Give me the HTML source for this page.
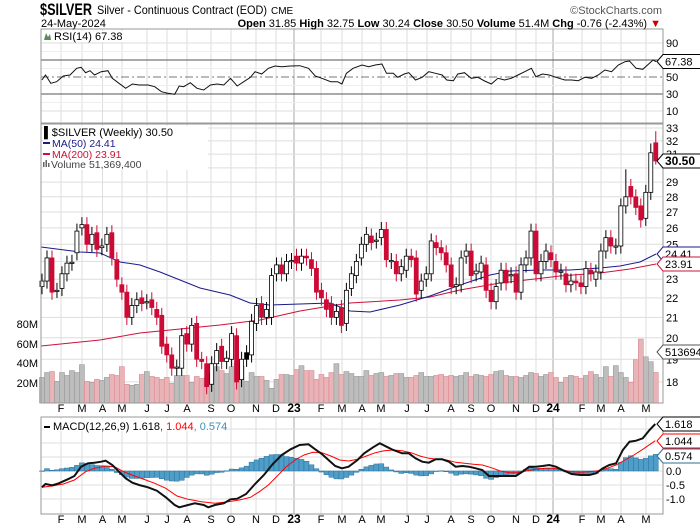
<!DOCTYPE html>
<html><head><meta charset="utf-8"><style>
body{margin:0;background:#fff;}
svg{display:block;font-family:"Liberation Sans",sans-serif;}
</style></head><body>
<svg id="s" width="700" height="530" xmlns="http://www.w3.org/2000/svg">
<rect width="700" height="530" fill="#fff"/>
<g id="grid"></g>
<g id="plot"></g>
<text x="40" y="15" font-size="17" font-weight="bold" textLength="52" lengthAdjust="spacingAndGlyphs">$SILVER</text>
<text x="97" y="14" font-size="12" textLength="170" lengthAdjust="spacingAndGlyphs">Silver - Continuous Contract (EOD)</text>
<text x="271" y="14" font-size="10">CME</text>
<text x="662" y="14" font-size="11" fill="#555" text-anchor="end">©StockCharts.com</text>
<text x="41" y="27" font-size="11">24-May-2024</text>
<text x="661" y="27" font-size="11" text-anchor="end"><tspan font-weight="bold">Open</tspan> 31.85 <tspan font-weight="bold">High</tspan> 32.75 <tspan font-weight="bold">Low</tspan> 30.24 <tspan font-weight="bold">Close</tspan> 30.50 <tspan font-weight="bold">Volume</tspan> 51.4M <tspan font-weight="bold">Chg</tspan> -0.76 (-2.43%) <tspan fill="#c00">▼</tspan></text>
</svg>
<script>
var NS="http://www.w3.org/2000/svg",G=document.getElementById('grid'),P=document.getElementById('plot');
function el(p,t,a,txt){var e=document.createElementNS(NS,t);for(var k in a)e.setAttribute(k,a[k]);if(txt!==undefined)e.textContent=txt;p.appendChild(e);return e;}
var L=41,R=663;
var panels=[[29,123],[124,403],[417,514]];
var months=[["F",61],["M",82],["A",102.5],["M",122],["J",147],["J",167],["A",187],["S",211],["O",231],["N",256],["D",276],["23",294],["F",321],["M",342],["A",362],["M",381],["J",407],["J",427],["A",451],["S",471],["O",491],["N",516],["D",536],["24",553],["F",582],["M",601],["A",621],["M",646]];
panels.forEach(function(p){months.forEach(function(m){var yr=m[0].length>1;el(G,'line',{x1:m[1],x2:m[1],y1:p[0],y2:p[1],stroke:yr?'#aaa':'#ddd','stroke-width':1});});});
var ry=function(v){return 119.5-(v)*0.85;};
[10,90].forEach(function(v){el(G,'line',{x1:L,x2:R,y1:ry(v),y2:ry(v),stroke:'#ddd'});});
[20,40,60,80].forEach(function(v){el(G,'line',{x1:L,x2:R,y1:ry(v),y2:ry(v),stroke:'#eee'});});
var py=function(p){return 1593-419*Math.log(p);};
for(var p=18;p<=33;p++){el(G,'line',{x1:L,x2:R,y1:py(p),y2:py(p),stroke:'#ddd'});}
var my=function(v){return 471-v*28;};
[-1,-0.5,0,0.5,1,1.5].forEach(function(v){el(G,'line',{x1:L,x2:R,y1:my(v),y2:my(v),stroke:'#ddd'});});
el(P,'line',{x1:L,x2:R,y1:ry(70),y2:ry(70),stroke:'#555'});
el(P,'line',{x1:L,x2:R,y1:ry(30),y2:ry(30),stroke:'#555'});
el(P,'line',{x1:L,x2:R,y1:ry(50),y2:ry(50),stroke:'#777','stroke-dasharray':'8,3,2,3'});
function zx(x){return 41+(x-90)*0.4458;}
var rsi=[[92,240],[100,225],[112,250],[125,245],[140,228],[155,225],[170,205],[180,202],[190,218],[200,212],[210,225],[225,215],[240,212],[250,235],[265,250],[280,265],[295,252],[310,255],[330,255],[345,260],[360,275],[375,280],[390,283],[400,258],[410,260],[425,248],[440,265],[455,270],[470,255],[485,252],[500,255],[515,235],[530,258],[545,245],[560,232],[570,215],[585,222],[600,205],[615,198],[630,200],[650,198],[670,197],[690,205],[705,228],[720,235],[740,245],[755,245],[765,252],[775,220],[790,205],[810,195],[825,200],[840,195],[855,192],[865,220],[880,220],[890,232],[905,222],[915,218],[930,240],[945,232],[960,215],[975,220],[990,225],[1000,240],[1015,242],[1025,222],[1040,218],[1055,235],[1070,232],[1085,243],[1100,252],[1115,235],[1130,240],[1145,235],[1160,225],[1175,215],[1190,205],[1200,230],[1215,222],[1230,225],[1245,232],[1265,240],[1280,240],[1295,242],[1310,232],[1325,235],[1340,225],[1355,210],[1370,215],[1385,195],[1400,185],[1410,183],[1425,205],[1440,208],[1455,190],[1463,180],[1470,185]];
el(P,'polyline',{points:rsi.map(function(q){return zx(q[0]).toFixed(1)+','+(q[1]/3).toFixed(1);}).join(' '),fill:'none',stroke:'#111','stroke-width':1});
var D=[[22.6,22.9],[22.9,24.2],[24.2,22.3],[22.4,22.4],[22.5,23.3],[23.3,23.9],[23.9,23.95],[24.5,25.8],[26.0,26.2],[26.2,25.0],[25.0,25.6],[25.7,24.7],[24.8,24.9],[25.0,25.6],[25.7,24.2],[24.1,23.0],[22.7,22.3],[22.3,21.0],[21.0,21.6],[21.6,21.9],[22.0,21.7],[21.8,21.8],[21.9,21.5],[21.4,21.0],[21.1,19.6],[19.7,19.2],[19.2,18.6],[18.6,18.65],[18.6,20.1],[20.2,19.7],[19.7,20.6],[20.7,19.0],[19.0,18.9],[18.8,17.8],[17.9,18.8],[18.8,19.4],[19.6,18.9],[18.9,19.05],[19.0,20.2],[20.1,18.0],[18.1,19.0],[19.0,19.3,1],[19.2,20.8],[20.7,21.6],[21.7,21.0],[21.0,21.4],[21.0,23.2],[23.3,23.8],[23.8,23.3],[23.3,24.0],[24.0,24.05],[24.3,23.9],[23.9,24.3],[24.3,24.2],[24.1,23.6],[23.6,22.3],[22.4,22.0],[21.9,21.4],[21.7,21.0],[21.0,21.3],[21.5,20.6],[20.7,22.4],[22.5,23.3],[23.2,24.0],[24.2,25.0],[25.0,25.6],[25.5,25.1],[25.2,25.25],[25.4,25.9],[25.9,24.1],[24.0,24.05],[24.0,23.3],[23.3,23.7],[23.5,24.3],[24.3,24.1],[24.2,22.2],[22.4,22.9],[23.0,23.3],[23.3,25.2],[25.1,24.8],[24.8,24.5],[24.5,23.8],[23.8,22.6],[22.6,22.7],[22.7,24.2],[24.3,24.6],[24.6,23.2],[23.3,23.45],[23.4,23.9],[23.8,22.4],[22.4,21.8],[21.8,22.6],[22.8,23.5],[23.5,22.8],[23.2,23.25],[23.3,22.3],[22.3,23.8],[23.8,24.2],[24.2,25.8],[25.8,23.3],[23.3,24.0],[24.0,24.6],[24.5,24.1],[24.0,23.4],[23.4,23.45],[23.3,22.7],[22.7,22.9],[22.9,22.8],[22.8,22.6],[22.6,23.6],[23.5,23.3],[23.0,23.4],[23.4,24.6],[24.6,25.4],[25.4,24.9],[24.85,24.9],[24.9,27.4],[27.4,28.0],[28.7,28.0],[28.0,27.3],[27.4,26.5],[26.6,28.3],[28.3,31.1],[31.85,30.5]];
var V=[26,31,32,22,31,28,33,31,39,22,21,24,23,26,29,28,37,19,18,19,29,32,27,26,24,26,20,28,28,28,21,27,25,26,30,37,33,30,37,41,38,22,31,27,27,23,15,24,29,29,28,34,38,33,33,24,29,26,31,40,29,32,30,27,27,33,28,30,31,27,28,30,30,26,26,28,31,27,27,28,29,27,28,27,28,31,27,29,28,27,29,32,33,28,27,27,26,28,31,30,27,29,31,26,21,26,28,27,25,28,32,29,26,37,27,38,31,26,21,44,65,47,42,31,29,44,51];
var W=4.99,X0=42;
D.forEach(function(d,i){var x=X0+W*i,v=V[i]||28,red=d[1]<d[0];var h=v*0.983;
el(P,'rect',{x:x-2.5,y:403-h,width:5,height:h,fill:red?'#e8b4b8':'#bdbdbd',stroke:red?'#d98a90':'#999','stroke-width':0.6});});
var ma50=[[41,247],[80,252],[100,253],[120,262],[140,265],[160,272],[180,280],[200,288],[230,295],[250,303],[270,305],[300,304],[330,303],[350,311],[370,312],[400,305],[430,296],[460,285],[490,275],[510,271],[540,270],[570,270],[600,268],[620,266],[640,262],[656,254]];
var ma200=[[41,346],[100,340],[140,333],[180,329],[220,325],[260,320],[300,311],[330,306],[350,303],[400,300],[430,297],[460,290],[500,283],[560,276],[600,273],[630,269],[656,264]];
el(P,'polyline',{points:ma200.join(' '),fill:'none',stroke:'#d0103a','stroke-width':1});
el(P,'polyline',{points:ma50.join(' '),fill:'none',stroke:'#1a1a8c','stroke-width':1});
D.forEach(function(d,i){var x=X0+W*i,o=d[0],c=d[1];var hi=Math.max(o,c)*1.018,lo=Math.min(o,c)*0.982;
if(i==123){hi=32.75;lo=30.24;} if(i==122){hi=31.8;} if(i==117){hi=29.9;lo=26.9;}
var red=c<o,col=red?'#cc0a35':'#000';
el(P,'line',{x1:x,x2:x,y1:py(hi),y2:py(lo),stroke:col,'stroke-width':1});
var t=py(Math.max(o,c)),b=py(Math.min(o,c));if(b-t<1.2){b=t+1.2;}
el(P,'rect',{x:x-2,y:t,width:4,height:b-t,fill:red?'#cc0a35':(d[2]?'#000':'#fff'),stroke:col,'stroke-width':0.8});});
var mb=[[92,262],[100,252],[115,256],[130,250],[150,238],[165,228],[180,200],[195,190],[210,188],[225,185],[235,182],[250,195],[265,215],[280,235],[295,248],[310,255],[330,262],[350,272],[370,292],[390,315],[400,322],[420,315],[435,310],[455,315],[465,322],[480,315],[500,310],[515,298],[530,296],[550,282],[570,252],[590,225],[610,192],[630,165],[650,148],[670,135],[690,133],[705,148],[720,162],[735,180],[750,198],[765,205],[780,200],[800,180],[815,160],[835,142],[850,130],[865,140],[880,150],[900,160],[915,160],[930,175],[945,185],[960,188],[975,178],[990,178],[1005,185],[1020,200],[1035,198],[1050,200],[1065,205],[1080,210],[1095,228],[1110,228],[1125,228],[1140,228],[1155,228],[1170,215],[1185,200],[1200,200],[1215,198],[1230,195],[1245,200],[1260,210],[1280,222],[1300,225],[1320,225],[1335,220],[1350,205],[1365,195],[1380,190],[1395,150],[1410,125],[1425,122],[1440,115],[1455,90],[1468,72]];
var mr=[[92,262],[115,258],[140,252],[165,240],[190,215],[210,205],[235,198],[255,200],[275,215],[300,228],[325,240],[345,250],[370,265],[395,288],[420,298],[450,305],[480,310],[510,305],[535,300],[560,292],[580,275],[600,255],[620,228],[640,200],[660,180],[680,165],[700,157],[720,158],[740,168],[760,180],[780,183],[800,178],[820,168],[840,158],[860,152],[880,150],[900,152],[920,158],[940,168],[960,175],[980,178],[1000,180],[1020,187],[1040,190],[1060,193],[1080,195],[1100,203],[1120,213],[1140,218],[1160,218],[1180,212],[1200,208],[1220,205],[1240,205],[1260,210],[1280,215],[1300,217],[1320,215],[1340,212],[1360,205],[1380,195],[1400,180],[1420,165],[1440,148],[1468,122]];
function cv(a){return a.map(function(q){return [zx(q[0]),400+q[1]/3];});}
var B=cv(mb),Rr=cv(mr);
function interp(a,x){if(x<=a[0][0])return a[0][1];for(var i=1;i<a.length;i++){if(x<=a[i][0]){var t=(x-a[i-1][0])/(a[i][0]-a[i-1][0]);return a[i-1][1]+t*(a[i][1]-a[i-1][1]);}}return a[a.length-1][1];}
for(var i=0;i<124;i++){var x=X0+W*i;var h=(interp(Rr,x)-interp(B,x));var y0=471;
el(P,'rect',{x:x-2.5,y:Math.min(y0,y0-h),width:5,height:Math.max(0.5,Math.abs(h)),fill:'#4f9ec9',stroke:'#2a6f99','stroke-width':0.5});}
el(P,'polyline',{points:Rr.map(function(q){return q[0].toFixed(1)+','+q[1].toFixed(1);}).join(' '),fill:'none',stroke:'#f00','stroke-width':1});
el(P,'polyline',{points:B.map(function(q){return q[0].toFixed(1)+','+q[1].toFixed(1);}).join(' '),fill:'none',stroke:'#111','stroke-width':2});
panels.forEach(function(p){el(P,'rect',{x:L,y:p[0],width:R-L,height:p[1]-p[0],fill:'none',stroke:'#999','stroke-width':1});});
function tx(x,y,s,a){return el(P,'text',Object.assign({x:x,y:y,'font-size':11,fill:'#000'},a||{}),s);}
[[90,ry(90)],[50,ry(50)],[30,ry(30)],[10,ry(10)]].forEach(function(q){tx(666,q[1]+4,q[0]);});
for(var p=18;p<=33;p++){if(p==30)continue;tx(666,py(p)+4,p);}
[["80M",324],["60M",344],["40M",363],["20M",383]].forEach(function(q){tx(38,q[1]+4,q[0],{'text-anchor':'end'});});
[["0.0",0],["-0.5",-0.5],["-1.0",-1]].forEach(function(q){tx(666,my(q[1])+4,q[0]);});
months.forEach(function(m){var yr=m[0].length>1;[412,523].forEach(function(y){tx(m[1],y,m[0],{'text-anchor':'middle','font-weight':yr?'bold':'normal','font-size':yr?12:11});});});
function tag(y,s,col,bold,w){w=w||38;el(P,'path',{d:'M657,'+y+' L663,'+(y-7)+' L'+(663+w)+','+(y-7)+' L'+(663+w)+','+(y+7)+' L663,'+(y+7)+' Z',fill:'#fff',stroke:col,'stroke-width':1});tx(665,y+4,s,{'font-weight':bold?'bold':'normal','font-size':bold?12:11});}
tag(61.5,"67.38","#000");
tag(161,"30.50","#000",1);
tag(254,"24.41","#1a1a8c");
tag(264,"23.91","#d0103a");
tag(352,"513694","#555");
tag(424,"1.618","#000");
tag(441,"1.044","#f00");
tag(456,"0.574","#2a6f99");
el(P,'rect',{x:43,y:31,width:100,height:11,fill:'#fff'});
el(P,'path',{d:'M44,40 L46,33 L48,37 L50,34 L51,40 Z',fill:'#5a8a5a'});
tx(54,40,"RSI(14) 67.38",{'font-size':11});
el(P,'rect',{x:43,y:126,width:165,height:44,fill:'#fff'});
tx(44,136,"\u258C$SILVER (Weekly) 30.50",{'font-size':11});
el(P,'line',{x1:43,x2:50,y1:143,y2:143,stroke:'#1a1a8c','stroke-width':2});
tx(52,147,"MA(50) 24.41",{'font-size':10.5,fill:'#1a1a8c'});
el(P,'line',{x1:43,x2:50,y1:154,y2:154,stroke:'#d0103a','stroke-width':2});
tx(52,158,"MA(200) 23.91",{'font-size':10.5,fill:'#d0103a'});
el(P,'rect',{x:43,y:162,width:1.5,height:5,fill:'#666'});el(P,'rect',{x:45.5,y:160,width:1.5,height:7,fill:'#666'});el(P,'rect',{x:48,y:163,width:1.5,height:4,fill:'#666'});
tx(51,168,"Volume 51,369,400",{'font-size':10.5,fill:'#444'});
el(P,'rect',{x:43,y:419,width:180,height:12,fill:'#fff'});
el(P,'line',{x1:44,x2:50,y1:427,y2:427,stroke:'#000','stroke-width':2});
var t=tx(53,430,"MACD(12,26,9) 1.618",{'font-size':11});
var ts=document.createElementNS(NS,'tspan');ts.setAttribute('fill','#f00');ts.textContent=", 1.044";t.appendChild(ts);
var ts2=document.createElementNS(NS,'tspan');ts2.setAttribute('fill','#3a8fc0');ts2.textContent=", 0.574";t.appendChild(ts2);
</script>
</body></html>
